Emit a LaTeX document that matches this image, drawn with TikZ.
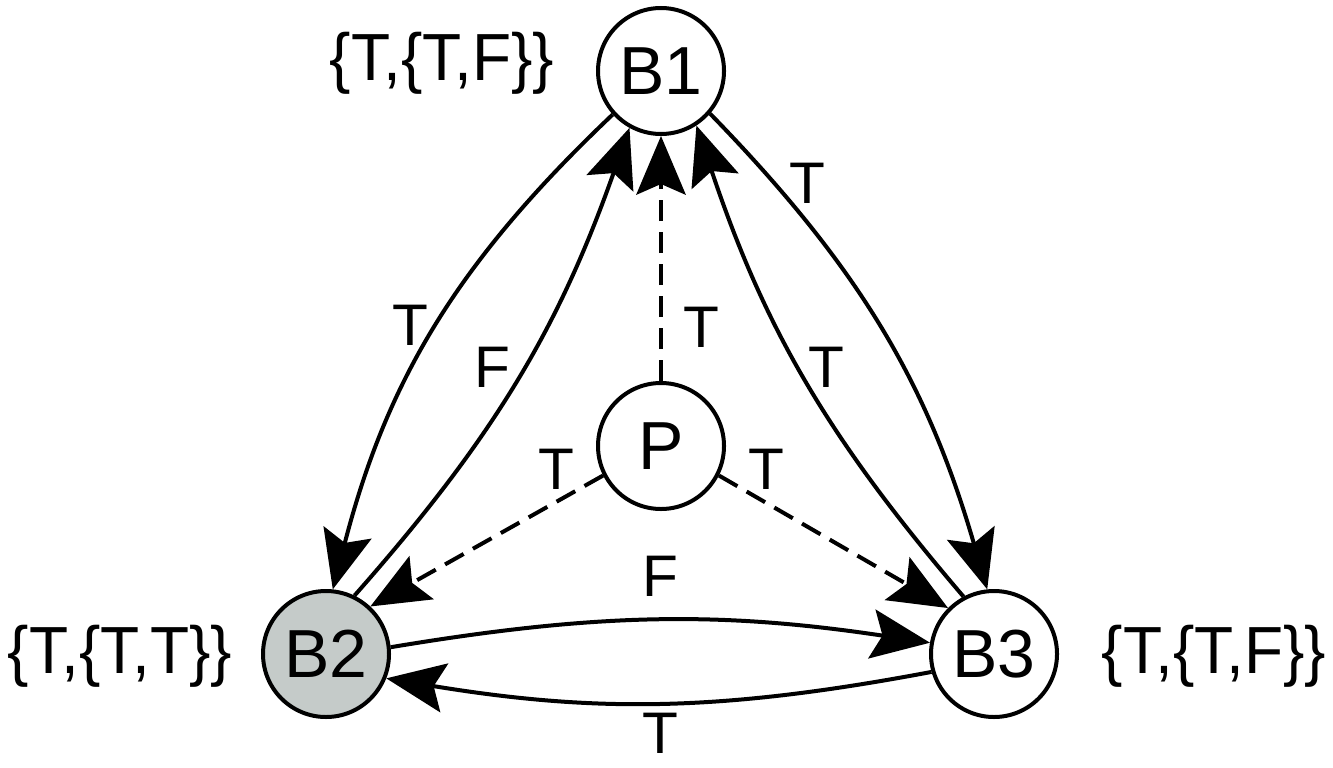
\documentclass[tikz,border=0pt]{standalone}
\usepackage{fontspec}
\setmainfont{Liberation Sans}
\newfontfamily\narrowfont{Liberation Sans}[FakeStretch=0.96]
\usetikzlibrary{arrows.meta}
\definecolor{btwogray}{RGB}{197,203,201}
\begin{document}
\begin{tikzpicture}[x=0.75pt,y=-0.75pt,
  state/.style={circle,draw=black,line width=3pt,fill=white,minimum size=94.5pt,inner sep=0pt,font=\fontsize{51}{60}\selectfont},
  lbl/.style={font=\fontsize{44}{52}\selectfont,inner sep=0pt},
  setlbl/.style={font=\narrowfont\fontsize{50}{60}\selectfont,inner sep=0pt,anchor=base},
  arr/.style={line width=3pt,-{Stealth[length=44pt,width=37pt,inset=8pt]}},
  dsh/.style={dash pattern=on 16pt off 8pt}]
\useasboundingbox (0,0) rectangle (1333,767);
\node[state] (B1) at (661,71) {B1};
\node[state] (P) at (661,446) {P};
\node[state,fill=btwogray] (B2) at (326,654) {B2};
\node[state] (B3) at (994,654) {B3};
\node[setlbl] (s1) at (442,80) {\{T,\{T,F\}\}};
\node[setlbl] (s2) at (120,673) {\{T,\{T,T\}\}};
\node[setlbl] (s3) at (1214,673) {\{T,\{T,F\}\}};
\draw[arr] (B1.222) to[bend right=16] (B2.84);
\draw[arr] (B2.64) to[bend right=11] (B1.241);
\draw[arr,dsh] (P.90) -- (B1.270);
\draw[arr] (B1.319) to[bend left=14] (B3.96);
\draw[arr] (B3.118) to[bend left=11] (B1.303);
\draw[arr,dsh] (P.207) -- (B2.47);
\draw[arr,dsh] (P.333) -- (B3.135);
\draw[arr] (B2.6) to[bend left=9] (B3.170);
\draw[arr] (B3.196) to[bend left=10] (B2.338);
\node[lbl] (l1) at (410,325) {T};
\node[lbl] (l2) at (492,367) {F};
\node[lbl] (l3) at (701,327) {T};
\node[lbl] (l4) at (807,183) {T};
\node[lbl] (l5) at (826,367) {T};
\node[lbl] (l6) at (556,469) {T};
\node[lbl] (l7) at (766,469) {T};
\node[lbl] (l8) at (660,576) {F};
\node[lbl] (l9) at (660,733) {T};
\end{tikzpicture}
\end{document}
